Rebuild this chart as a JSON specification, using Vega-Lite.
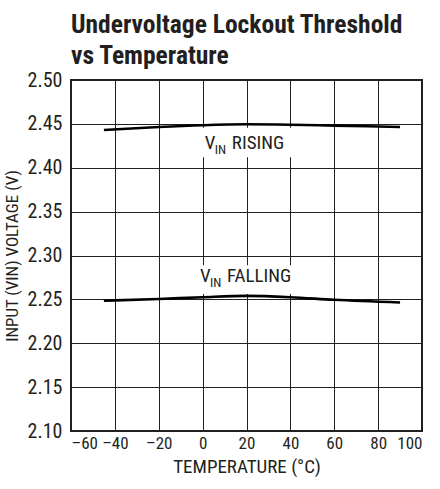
{
  "$schema": "https://vega.github.io/schema/vega-lite/v6.json",
  "width": 351,
  "height": 351,
  "padding": {"left": 3, "top": 12, "right": 10, "bottom": 5},
  "background": "white",
  "title": {
    "text": ["Undervoltage Lockout Threshold", "vs Temperature"],
    "font": "Roboto Condensed, Roboto",
    "fontWeight": "bold",
    "fontSize": 25.5,
    "lineHeight": 31,
    "anchor": "start",
    "frame": "group",
    "color": "#231f20",
    "offset": 1
  },
  "config": {
    "view": {"stroke": "#231f20", "strokeWidth": 2},
    "axis": {
      "grid": true,
      "gridColor": "#231f20",
      "gridWidth": 1,
      "gridOpacity": 1,
      "domain": false,
      "ticks": false,
      "labelOverlap": false,
      "labelFont": "Roboto Condensed, Roboto",
      "labelFontSize": 20,
      "labelColor": "#231f20",
      "titleFont": "Roboto Condensed, Roboto",
      "titleFontSize": 19,
      "titleFontWeight": "normal",
      "titleColor": "#231f20"
    }
  },
  "datasets": {
    "curves": [
      {"temp": -45, "v": 2.443, "series": "rising"},
      {"temp": -20, "v": 2.4465, "series": "rising"},
      {"temp": 0, "v": 2.4485, "series": "rising"},
      {"temp": 20, "v": 2.4495, "series": "rising"},
      {"temp": 40, "v": 2.449, "series": "rising"},
      {"temp": 60, "v": 2.448, "series": "rising"},
      {"temp": 90, "v": 2.4465, "series": "rising"},
      {"temp": -45, "v": 2.2485, "series": "falling"},
      {"temp": -20, "v": 2.2505, "series": "falling"},
      {"temp": 0, "v": 2.2525, "series": "falling"},
      {"temp": 20, "v": 2.254, "series": "falling"},
      {"temp": 40, "v": 2.2525, "series": "falling"},
      {"temp": 60, "v": 2.2495, "series": "falling"},
      {"temp": 90, "v": 2.2465, "series": "falling"}
    ],
    "labels": [
      {"t0": -2, "t1": 42, "v0": 2.412, "v1": 2.4455, "tx": 1, "ty": 2.4215, "main": "V", "sub": "IN", "rest": "RISING"},
      {"t0": -2, "t1": 42, "v0": 2.256, "v1": 2.289, "tx": -1.2, "ty": 2.2695, "main": "V", "sub": "IN", "rest": "FALLING"}
    ]
  },
  "layer": [
    {
      "data": {"name": "labels"},
      "mark": {"type": "rect", "fill": "white", "stroke": null},
      "encoding": {
        "x": {"field": "t0", "type": "quantitative"},
        "x2": {"field": "t1"},
        "y": {"field": "v0", "type": "quantitative"},
        "y2": {"field": "v1"}
      }
    },
    {
      "data": {"name": "curves"},
      "mark": {"type": "line", "color": "#000000", "strokeWidth": 2.6, "interpolate": "monotone"},
      "encoding": {
        "x": {
          "field": "temp",
          "type": "quantitative",
          "scale": {"domain": [-60, 100], "nice": false, "zero": false},
          "axis": {"values": [-60, -40, -20, 0, 20, 40, 60, 80, 100], "labelExpr": "datum.value < 0 ? '–' + (-datum.value) : '' + datum.value", "labelFontSize": 17, "title": "TEMPERATURE (°C)", "labelPadding": 4, "titlePadding": 6}
        },
        "y": {
          "field": "v",
          "type": "quantitative",
          "scale": {"domain": [2.1, 2.5], "nice": false, "zero": false},
          "axis": {"values": [2.1, 2.15, 2.2, 2.25, 2.3, 2.35, 2.4, 2.45, 2.5], "format": ".2f", "title": "INPUT (VIN) VOLTAGE (V)", "titleFontSize": 17, "labelPadding": 9, "titlePadding": 6}
        },
        "detail": {"field": "series"}
      }
    },
    {
      "data": {"name": "labels"},
      "mark": {"type": "text", "align": "left", "baseline": "alphabetic", "font": "Roboto Condensed, Roboto", "fontSize": 19, "color": "#231f20"},
      "encoding": {
        "x": {"field": "tx", "type": "quantitative"},
        "y": {"field": "ty", "type": "quantitative"},
        "text": {"field": "main"}
      }
    },
    {
      "data": {"name": "labels"},
      "mark": {"type": "text", "align": "left", "baseline": "alphabetic", "font": "Roboto Condensed, Roboto", "fontSize": 13, "dx": 10, "dy": 5, "color": "#231f20"},
      "encoding": {
        "x": {"field": "tx", "type": "quantitative"},
        "y": {"field": "ty", "type": "quantitative"},
        "text": {"field": "sub"}
      }
    },
    {
      "data": {"name": "labels"},
      "mark": {"type": "text", "align": "left", "baseline": "alphabetic", "font": "Roboto Condensed, Roboto", "fontSize": 19, "dx": 27, "color": "#231f20"},
      "encoding": {
        "x": {"field": "tx", "type": "quantitative"},
        "y": {"field": "ty", "type": "quantitative"},
        "text": {"field": "rest"}
      }
    }
  ]
}
